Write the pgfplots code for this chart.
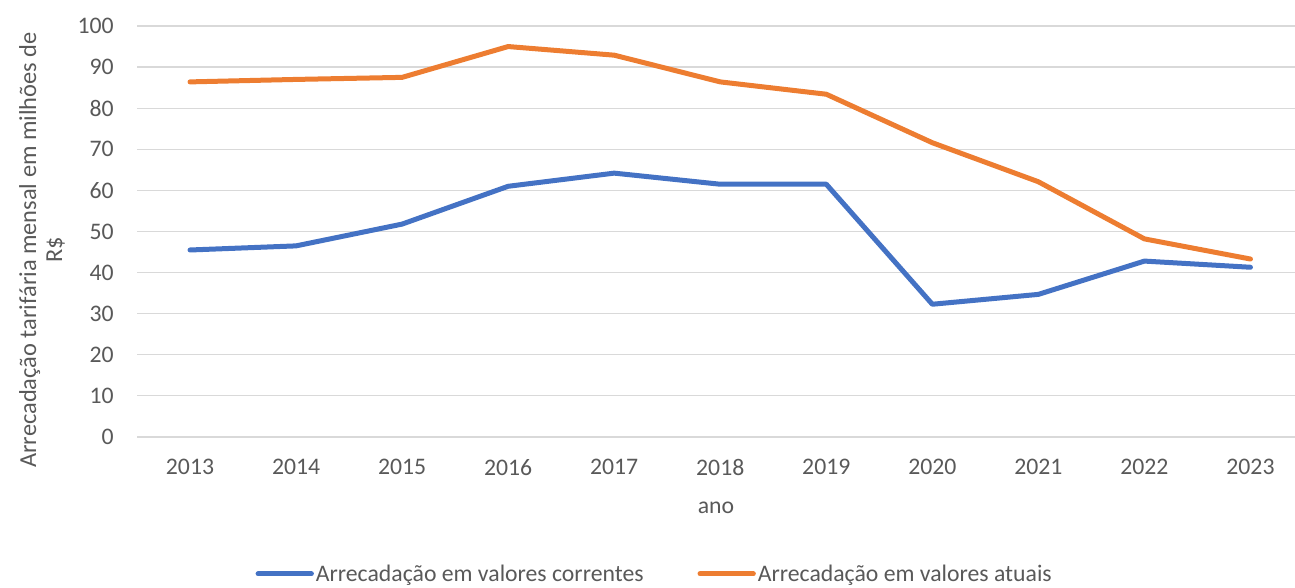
\documentclass[border=0pt]{standalone}
\usepackage{fontspec}
\setmainfont{Carlito}
\usepackage{pgfplots}
\pgfplotsset{compat=1.18}
\definecolor{txt}{HTML}{595959}
\definecolor{gridc}{HTML}{D9D9D9}
\definecolor{cblue}{HTML}{4472C4}
\definecolor{corange}{HTML}{ED7D31}
\begin{document}
\begin{tikzpicture}
\path[use as bounding box] (0,0) rectangle (971.25pt,441pt);
\begin{axis}[
  at={(102.75pt,113.25pt)}, anchor=south west,
  scale only axis, width=868.5pt, height=308.25pt,
  xmin=-0.5, xmax=10.42, ymin=0, ymax=100,
  xtick={0,...,10},
  xticklabels={2013,2014,2015,2016,2017,2018,2019,2020,2021,2022,2023},
  ytick={0,10,...,100},
  axis line style={draw=none},
  major tick length=0pt,
  ymajorgrids, grid style={gridc, line width=0.9pt},
  font=\fontsize{17.8}{19.5}\selectfont,
  every tick label/.append style={txt},
  /pgf/number format/assume math mode=true,
  yticklabel style={xshift=-14pt},
  xticklabel style={yshift=-13pt},
  xlabel={ano}, xlabel style={txt, at={(axis description cs:0.5,-0.172)}, anchor=center},
  ylabel={Arrecadação tarifária mensal em milhões de\\R\$},
  ylabel style={txt, align=center, font=\fontsize{18.3}{19.5}\selectfont, at={(axis description cs:-0.082,0.455)}, anchor=center, rotate=0},
  legend columns=2,
  legend style={at={(axis description cs:0.447,-0.333)}, anchor=center, draw=none, fill=none,
    text=txt, font=\fontsize{17.8}{19.5}\selectfont,
    /tikz/every even column/.append style={column sep=39pt},
    nodes={inner xsep=1.5pt, inner ysep=1pt}},
  legend image code/.code={\draw[#1] (0pt,0pt) -- (40pt,0pt);},
  every axis plot/.append style={line width=3.75pt, line cap=round, line join=round},
]
\addplot[cblue] coordinates {(0,45.5) (1,46.5) (2,51.8) (3,61.0) (4,64.2) (5,61.5) (6,61.5) (7,32.3) (8,34.7) (9,42.8) (10,41.3)};
\addlegendentry{Arrecadação em valores correntes}
\addplot[corange] coordinates {(0,86.4) (1,87.0) (2,87.5) (3,95.0) (4,92.9) (5,86.4) (6,83.4) (7,71.6) (8,62.1) (9,48.2) (10,43.3)};
\addlegendentry{Arrecadação em valores atuais}
\end{axis}
\end{tikzpicture}
\end{document}
